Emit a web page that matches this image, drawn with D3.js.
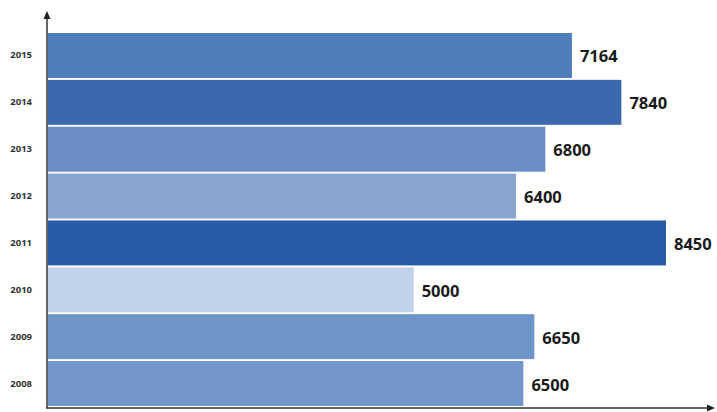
<!DOCTYPE html>
<html>
<head>
<meta charset="utf-8">
<script src="https://cdn.jsdelivr.net/npm/d3@7"></script>
<style>
  body { margin: 0; background: #fff; }
  svg { display: block; font-family: "Open Sans", "Noto Sans", sans-serif; }
</style>
</head>
<body>
<svg id="chart" width="717" height="412"></svg>
<script>
// data, top to bottom as drawn
const years = ['2015', '2014', '2013', '2012', '2011', '2010', '2009', '2008'];
const values = [7164, 7840, 6800, 6400, 8450, 5000, 6650, 6500];
const colors = ['#4f7cba', '#3c69ad', '#6a8ec4', '#87a5cf', '#2a5ba6', '#c2d2e8', '#7095c8', '#7397ca'];

const svg = d3.select('#chart');
const mLeft = 48, mTop = 33, mBottom = 406, mRight = 712;

let x = d3.scaleLinear().domain([0, 8450]).range([mLeft, 666]);
let y = d3.scaleBand().domain(years).range([mTop, mBottom]).paddingInner(0.04).paddingOuter(0);

// bars
svg.selectAll('.bar')
    .data(years)
    .join('rect')
    .attr('class', 'bar')
    .attr('x', x(0))
    .attr('y', d => y(d))
    .attr('width', (d, i) => x(values[i]) - x(0))
    .attr('height', y.bandwidth())
    .attr('fill', (d, i) => colors[i]);

// value labels
svg.selectAll('.val')
    .data(years)
    .join('text')
    .attr('class', 'val')
    .attr('x', (d, i) => x(values[i]) + 8)
    .attr('y', d => y(d) + y.bandwidth() / 2 + 7)
    .attr('font-size', 16.5)
    .attr('font-weight', 700)
    .attr('fill', '#1a1a1a')
    .text((d, i) => values[i]);

// year labels
svg.selectAll('.year')
    .data(years)
    .join('text')
    .attr('class', 'year')
    .attr('x', 32)
    .attr('y', d => y(d) + y.bandwidth() / 2 + 3)
    .attr('text-anchor', 'end')
    .attr('font-size', 9.5)
    .attr('font-weight', 700)
    .attr('fill', '#333')
    .text(d => d);

// axes with arrow heads
svg.append('line')
    .attr('x1', 47).attr('y1', 408).attr('x2', 47).attr('y2', 16)
    .attr('stroke', '#333').attr('stroke-width', 1.5);
svg.append('path')
    .attr('d', 'M47,11 L43.5,19 L50.5,19 Z')
    .attr('fill', '#222');
svg.append('line')
    .attr('x1', 46).attr('y1', 408).attr('x2', mRight - 4).attr('y2', 408)
    .attr('stroke', '#333').attr('stroke-width', 1.5);
svg.append('path')
    .attr('d', `M${mRight + 3},408 L${mRight - 5},404.5 L${mRight - 5},411.5 Z`)
    .attr('fill', '#222');
</script>
</body>
</html>
